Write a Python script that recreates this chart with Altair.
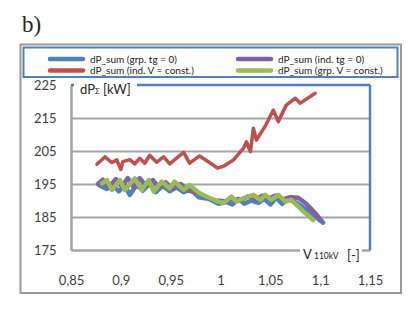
import altair as alt
import pandas as pd

# ---- data ----
series_names = ["dP_sum (grp. tg = 0)", "dP_sum (ind. tg = 0)",
                "dP_sum (ind. V = const.)", "dP_sum (grp. V = const.)"]
series_colors = ["#4F81BD", "#8064A2", "#C0504D", "#9BBB59"]

blue_x = [0.879, 0.886, 0.892, 0.898, 0.904, 0.909, 0.916, 0.922, 0.929, 0.935, 0.942,
          0.949, 0.956, 0.963, 0.970, 0.978, 0.988, 0.998, 1.006, 1.012, 1.018, 1.024,
          1.031, 1.038, 1.044, 1.050, 1.056, 1.062, 1.068, 1.075, 1.085, 1.095, 1.103]
blue_y = [194.5, 193.5, 194.8, 192.8, 194.5, 191.7, 194.8, 193.0, 195.2, 192.5, 194.5,
          192.8, 194.0, 192.5, 193.5, 191.0, 190.5, 189.0, 189.5, 188.8, 190.5, 189.0,
          190.0, 189.3, 190.5, 188.8, 190.8, 189.0, 190.5, 189.5, 187.5, 185.0, 183.3]

purple_x = [0.877, 0.882, 0.888, 0.895, 0.901, 0.907, 0.913, 0.919, 0.925, 0.932, 0.938,
            0.945, 0.952, 0.960, 0.967, 0.975, 0.985, 0.995, 1.005, 1.012, 1.020, 1.028,
            1.035, 1.042, 1.048, 1.055, 1.062, 1.070, 1.078, 1.086, 1.094, 1.101]
purple_y = [195.0, 196.3, 194.0, 196.5, 194.2, 196.8, 194.0, 196.8, 194.5, 196.2, 194.0,
            195.5, 193.5, 195.0, 193.0, 192.5, 191.0, 190.0, 189.8, 190.5, 190.0, 191.3,
            190.2, 191.5, 190.5, 191.5, 190.3, 191.0, 190.8, 189.0, 186.5, 184.0]

red_x = [0.876, 0.884, 0.891, 0.896, 0.900, 0.902, 0.909, 0.914, 0.919, 0.924, 0.929,
         0.936, 0.943, 0.949, 0.963, 0.969, 0.979, 0.989, 0.997, 1.003, 1.013, 1.023,
         1.026, 1.030, 1.033, 1.036, 1.045, 1.053, 1.058, 1.066, 1.075, 1.080, 1.095]
red_y = [201.0, 203.2, 201.5, 202.3, 199.4, 201.8, 202.4, 201.1, 202.8, 201.3, 203.7,
         201.6, 203.2, 201.1, 204.6, 201.3, 203.5, 201.5, 199.8, 200.4, 202.3, 205.8,
         207.8, 204.8, 211.9, 208.3, 212.6, 217.4, 213.9, 218.9, 221.0, 219.5, 222.5]

green_x = [0.881, 0.886, 0.891, 0.899, 0.904, 0.914, 0.921, 0.928, 0.933, 0.941, 0.949,
           0.954, 0.963, 0.969, 0.979, 0.993, 1.003, 1.011, 1.016, 1.023, 1.033, 1.040,
           1.045, 1.051, 1.058, 1.065, 1.071, 1.082, 1.093]
green_y = [195.2, 196.2, 193.2, 196.2, 193.2, 196.7, 193.2, 196.2, 192.7, 195.7, 193.7,
           195.7, 193.2, 194.7, 192.2, 190.2, 189.2, 191.2, 189.7, 190.7, 191.7, 190.2,
           191.7, 190.2, 191.7, 189.7, 190.2, 187.0, 184.1]

x_ticks = [0.85, 0.9, 0.95, 1.0, 1.05, 1.1, 1.15]
y_ticks = [175, 185, 195, 205, 215, 225]

rows = []
for name, xs, ys in zip(series_names, [blue_x, purple_x, red_x, green_x],
                        [blue_y, purple_y, red_y, green_y]):
    for i, (a, b) in enumerate(zip(xs, ys)):
        rows.append({"series": name, "V": a, "dP": b, "i": i})
df = pd.DataFrame(rows)

W, H = 299, 165
FONT = "Lato"
GRAY = "#A6A6A6"
BLUE = "#4F81BD"

one = pd.DataFrame({"k": [0]})

frame = alt.Chart(one).mark_rect(fill=None, stroke="#9A9A9A", strokeWidth=2).encode(
    x=alt.value(-50.5), x2=alt.value(330), y=alt.value(-40.5), y2=alt.value(208))

legbox = alt.Chart(one).mark_rect(fill=None, stroke=BLUE, strokeWidth=2).encode(
    x=alt.value(-47.5), x2=alt.value(326.5), y=alt.value(-37.5), y2=alt.value(-8))

top_line = alt.Chart(one).mark_rule(color=BLUE, strokeWidth=2.5).encode(
    x=alt.value(0), x2=alt.value(W), y=alt.value(0))
right_line = alt.Chart(one).mark_rule(color=BLUE, strokeWidth=2.5).encode(
    x=alt.value(W), y=alt.value(0), y2=alt.value(H))

lines = alt.Chart(df).mark_line(strokeJoin="round", strokeCap="round").encode(
    x=alt.X("V:Q", scale=alt.Scale(domain=[0.85, 1.15], nice=False, zero=False),
            axis=alt.Axis(values=x_ticks, grid=False, ticks=False, domainColor=GRAY,
                          domainWidth=2.5, labelFont=FONT, labelFontSize=13,
                          labelColor="#404040", labelPadding=24, labelFlush=False,
                          labelExpr="replace(format(datum.value, '.2~f'), '.', ',')"),
            title=None),
    y=alt.Y("dP:Q", scale=alt.Scale(domain=[175, 225], nice=False, zero=False),
            axis=alt.Axis(values=y_ticks, ticks=False, domainColor=GRAY, domainWidth=2.5,
                          labelFont=FONT, labelFontSize=13, labelColor="#404040",
                          labelPadding=15, labelFlush=False, gridColor=GRAY, gridWidth=2,
                          gridOpacity={"condition": {"test": "datum.value == 175 || datum.value == 225",
                                                     "value": 0}, "value": 1}),
            title=None),
    color=alt.Color("series:N", scale=alt.Scale(domain=series_names, range=series_colors),
                    legend=None),
    detail="series:N",
    order="i:Q",
    strokeWidth=alt.condition(alt.datum.series == series_names[2], alt.value(3.5), alt.value(4.5)),
)

# legend, drawn as a 2-column grid of stroke symbols + labels
legend_layers = []
for k, (name, col) in enumerate(zip(series_names, series_colors)):
    c, r = k % 2, k // 2
    x0 = -23 + c * 188
    y0 = -26 + r * 11.5
    legend_layers.append(
        alt.Chart(one).mark_rule(color=col, strokeWidth=4.5, strokeCap="round").encode(
            x=alt.value(x0 + 2), x2=alt.value(x0 + 35), y=alt.value(y0)))
    legend_layers.append(
        alt.Chart(one).mark_text(text=name, align="left", baseline="middle", font=FONT,
                                 fontSize=10, color="#222222").encode(
            x=alt.value(x0 + 42), y=alt.value(y0 + 0.5)))

ylab_bg = alt.Chart(one).mark_rect(fill="white").encode(
    x=alt.value(3), x2=alt.value(66), y=alt.value(-3), y2=alt.value(14))
xlab_bg = alt.Chart(one).mark_rect(fill="white").encode(
    x=alt.value(229), x2=alt.value(291), y=alt.value(159), y2=alt.value(177))

def txt(s, x, y, size, font=FONT):
    return alt.Chart(one).mark_text(text=s, align="left", baseline="alphabetic",
                                    font=font, fontSize=size, color="#262626").encode(
        x=alt.value(x), y=alt.value(y))

texts = [
    txt("dP", 9, 9, 13), txt("Σ", 24, 9, 8), txt("[kW]", 32, 9, 13),
    txt("V", 232, 174, 13), txt("110kV", 243, 174, 8.5), txt("[-]", 276, 175, 13),
    txt("b)", -63 + 14, -77 + 24, 23, font="Liberation Serif"),
]

chart = alt.layer(frame, legbox, lines, top_line, right_line, ylab_bg, xlab_bg,
                  *legend_layers, *texts).properties(
    width=W, height=H, background="white",
    padding={"left": 63, "top": 77, "right": 32, "bottom": 53},
    autosize=alt.AutoSizeParams(type="none"),
).configure_view(stroke=None)

chart.save("out.html", embed_options={"renderer": "svg", "actions": False})
